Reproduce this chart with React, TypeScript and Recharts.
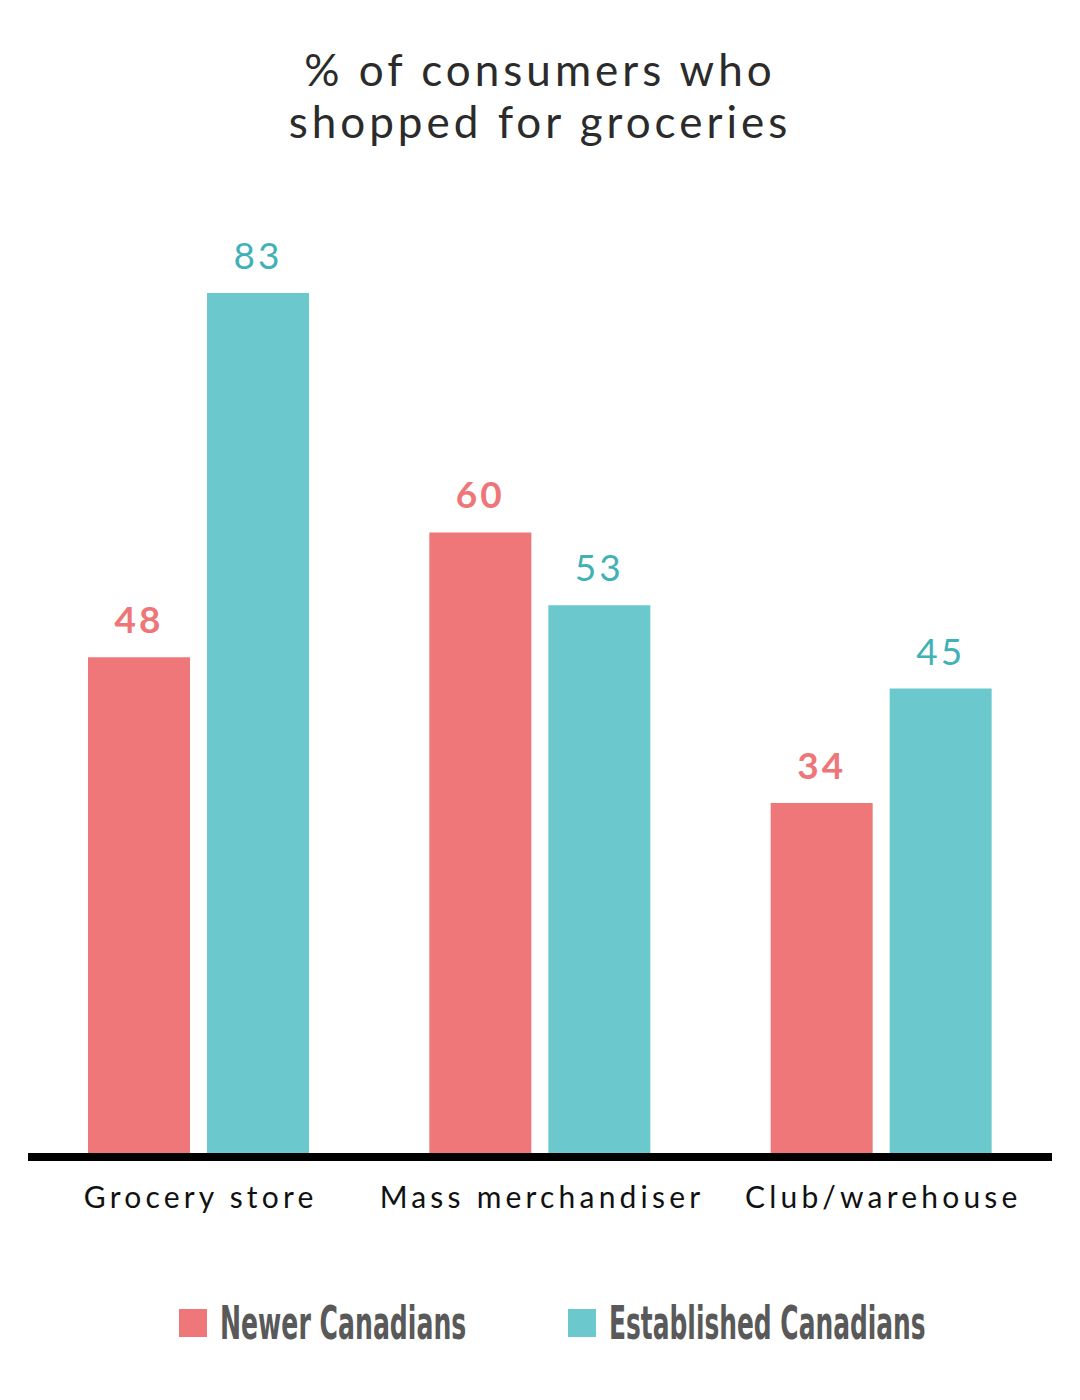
import React from "react"
import { BarChart, Bar, XAxis, YAxis, LabelList, ReferenceLine } from "recharts"

const categories = ["Grocery store", "Mass merchandiser", "Club/warehouse"]
const newerCanadians = [48, 60, 34]
const establishedCanadians = [83, 53, 45]
const seriesNames = ["Newer Canadians", "Established Canadians"]

const PINK = "#EF777A"
const TEAL = "#6BC9CE"
const PINK_TEXT = "#EE7679"
const TEAL_TEXT = "#3FB2B8"

const chartData = categories.map((name, i) => ({
  name,
  newer: newerCanadians[i],
  established: establishedCanadians[i],
}))

const FONT = "Lato, 'Open Sans', sans-serif"

// legend text is a tall condensed face in the original, so squeeze a condensed font horizontally
const LegendItem = ({ x, color, label, squeeze }: { x: number; color: string; label: string; squeeze: number }) => (
  <g>
    <rect x={x} y={1309} width={28} height={28} fill={color} />
    <text
      transform={`translate(${x + 41}, 1339) scale(${squeeze}, 1)`}
      fontFamily="'DejaVu Sans Condensed', 'Liberation Sans Narrow', sans-serif"
      fontSize={47}
      fontWeight={700}
      fill="#595959"
    >
      {label}
    </text>
  </g>
)

export default function App() {
  return (
    <div style={{ position: "absolute", left: 0, top: 0, width: 1080, height: 1400, background: "#fff", fontFamily: FONT }}>
      <div
        style={{
          position: "absolute",
          top: 43,
          left: 0,
          width: 1080,
          textAlign: "center",
          fontSize: 44,
          lineHeight: "52px",
          color: "#2b2b2b",
          letterSpacing: 4,
        }}
      >
        % of consumers who
        <br />
        shopped for groceries
      </div>
      <div style={{ position: "absolute", left: 0, top: 0 }}>
        <BarChart
          width={1080}
          height={1400}
          data={chartData}
          margin={{ top: 116, right: 28, left: 28, bottom: 183 }}
          barCategoryGap={60}
          barGap={17}
        >
          <XAxis
            dataKey="name"
            axisLine={false}
            tickLine={false}
            height={60}
            interval={0}
            tick={{ fontSize: 30, fill: "#111", fontFamily: FONT, letterSpacing: 4.2, dy: 22, dx: 2 }}
          />
          <YAxis hide domain={[0, 100]} />
          <Bar dataKey="newer" fill={PINK} isAnimationActive={false}>
            <LabelList
              dataKey="newer"
              position="top"
              offset={24}
              fill={PINK_TEXT}
              fontSize={37}
              fontWeight={700}
              fontFamily={FONT}
              letterSpacing={3}
            />
          </Bar>
          <Bar dataKey="established" fill={TEAL} isAnimationActive={false}>
            <LabelList
              dataKey="established"
              position="top"
              offset={24}
              fill={TEAL_TEXT}
              fontSize={37}
              fontFamily={FONT}
              letterSpacing={3}
            />
          </Bar>
          <ReferenceLine y={0} stroke="#000" strokeWidth={8} />
        </BarChart>
      </div>
      <svg width={1080} height={1400} style={{ position: "absolute", left: 0, top: 0, pointerEvents: "none" }}>
        <LegendItem x={179} color={PINK} label={seriesNames[0]} squeeze={0.595} />
        <LegendItem x={568} color={TEAL} label={seriesNames[1]} squeeze={0.589} />
      </svg>
    </div>
  )
}
